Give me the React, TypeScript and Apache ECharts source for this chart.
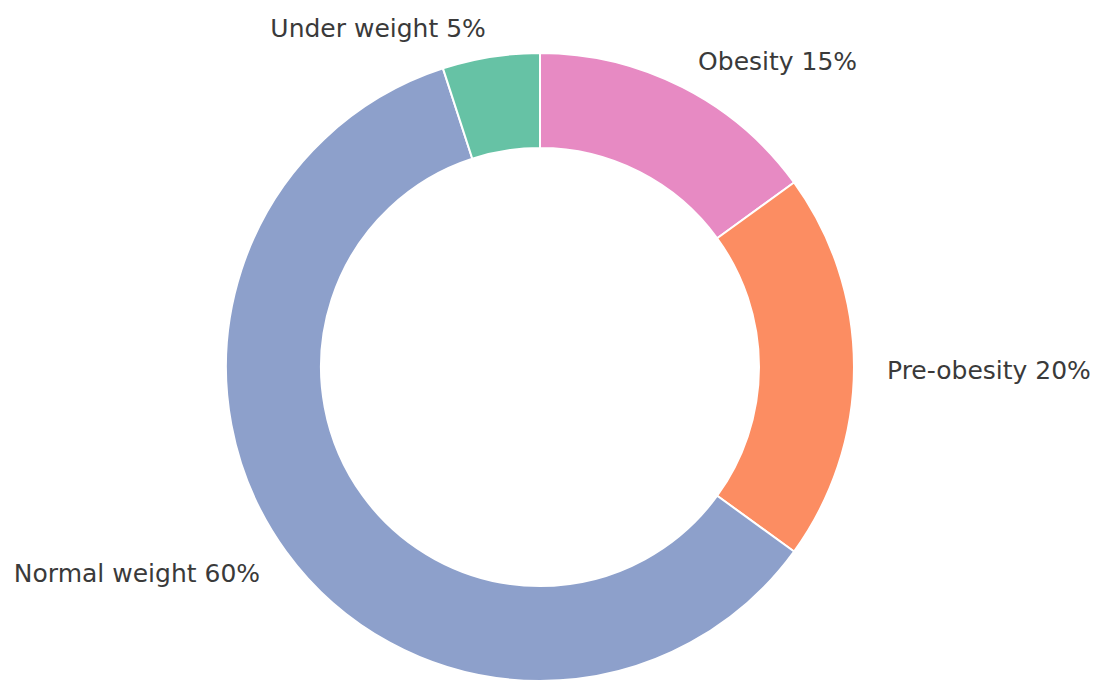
import React, { useEffect, useRef } from "react";
import * as echarts from "echarts";

const categories = ["Obesity", "Pre-obesity", "Normal weight", "Under weight"];
const shares = [15, 20, 60, 5];
const colors = ["#e78ac3", "#fc8d62", "#8da0cb", "#66c2a5"];

export default function App() {
  const ref = useRef<HTMLDivElement>(null);
  useEffect(() => {
    if (!ref.current) return;
    const chart = echarts.init(ref.current, undefined, { renderer: "svg" });
    chart.setOption({
      animation: false,
      backgroundColor: "#ffffff",
      series: [
        {
          type: "pie",
          center: [540, 367],
          radius: [219, 314],
          startAngle: 90,
          clockwise: true,
          avoidLabelOverlap: false,
          itemStyle: { borderColor: "#ffffff", borderWidth: 2 },
          label: {
            show: true,
            position: "outside",
            formatter: "{b} {c}%",
            fontFamily: "DejaVu Sans",
            fontSize: 25,
            color: "#3a3a3a",
            alignTo: "none",
          },
          labelLayout: (p: any) => ({
            dx: p.align === "right" ? 5 : -4,
            dy: 3,
          }),
          labelLine: { show: false, length: 32, length2: 0 },
          emphasis: { disabled: true },
          data: categories.map((name, i) => ({
            name,
            value: shares[i],
            itemStyle: { color: colors[i] },
          })),
        },
      ],
    });
    return () => chart.dispose();
  }, []);
  return (
    <div
      ref={ref}
      style={{ position: "fixed", left: 0, top: 0, width: 1101, height: 682 }}
    />
  );
}
